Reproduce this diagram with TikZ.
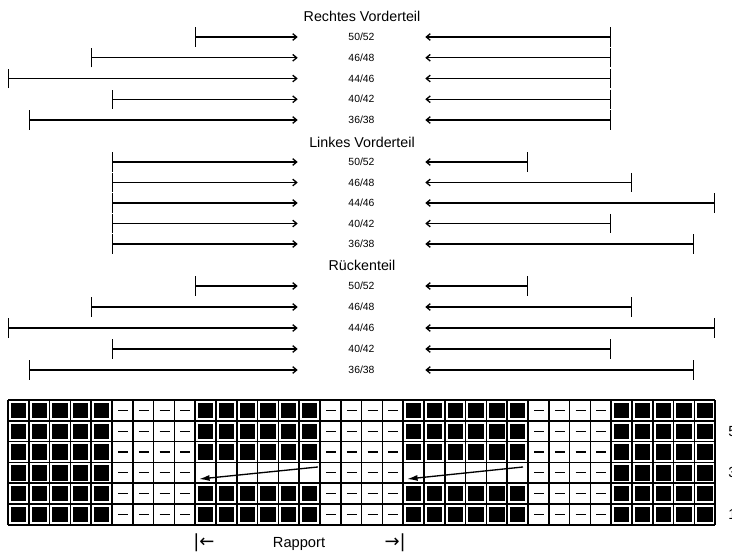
\documentclass[tikz,border=0pt]{standalone}
\usepackage{fontspec}
\setmainfont{Liberation Sans}
\newfontfamily\arrowfont{DejaVu Sans}
\usetikzlibrary{arrows.meta}

\tikzset{
  parttitle/.style={font=\fontsize{10.7}{12}\selectfont, inner sep=0pt},
  sizelabel/.style={font=\fontsize{7.8}{8}\selectfont, inner sep=0pt, minimum width=95.25pt},
  measline/.style={line width=1pt, {Bar[width=14.5pt]}-{Straight Barb[length=3pt,width=5pt]}},
  stitch/.style={fill=black},
  purl/.style={line width=1pt},
  cellgrid/.style={line width=1.1pt},
  movearrow/.style={line width=1pt, -{Latex[length=8pt,width=4.5pt]}},
  rownum/.style={font=\fontsize{11}{12}\selectfont, inner sep=0pt, anchor=west},
  rapport/.style={font=\fontsize{11}{12}\selectfont, inner sep=0pt},
  rapportend/.style={font=\arrowfont\fontsize{13.5}{15}\selectfont, inner sep=0pt},
}

\begin{document}
\begin{tikzpicture}[x=0.75pt, y=-0.75pt]
\useasboundingbox (0,0) rectangle (732,554);

% Rechtes Vorderteil
\node[parttitle] (rv) at (362,16) {Rechtes Vorderteil};
\foreach \a/\b/\xl/\xr [count=\i] in {50/52/195/611, 46/48/91/611, 44/46/8/611, 40/42/112/611, 36/38/29/611}{
  \pgfmathsetmacro\yy{37+20.75*(\i-1)}
  \node[sizelabel] (rv\i) at (361.5,\yy) {\a/\b};
  \coordinate (rvl\i) at (\xl,\yy);
  \coordinate (rvr\i) at (\xr,\yy);
  \draw[measline] (rvl\i) -- (rv\i.west);
  \draw[measline] (rvr\i) -- (rv\i.east);
}

% Linkes Vorderteil
\node[parttitle] (lv) at (362,142) {Linkes Vorderteil};
\foreach \a/\b/\xl/\xr [count=\i] in {50/52/112/528, 46/48/112/632, 44/46/112/715, 40/42/112/611, 36/38/112/694}{
  \pgfmathsetmacro\yy{162+20.5*(\i-1)}
  \node[sizelabel] (lv\i) at (361.5,\yy) {\a/\b};
  \coordinate (lvl\i) at (\xl,\yy);
  \coordinate (lvr\i) at (\xr,\yy);
  \draw[measline] (lvl\i) -- (lv\i.west);
  \draw[measline] (lvr\i) -- (lv\i.east);
}

% Rueckenteil
\node[parttitle] (rt) at (362,265) {Rückenteil};
\foreach \a/\b/\xl/\xr [count=\i] in {50/52/195/528, 46/48/91/632, 44/46/8/715, 40/42/112/611, 36/38/29/694}{
  \pgfmathsetmacro\yy{286+21*(\i-1)}
  \node[sizelabel] (rt\i) at (361.5,\yy) {\a/\b};
  \coordinate (rtl\i) at (\xl,\yy);
  \coordinate (rtr\i) at (\xr,\yy);
  \draw[measline] (rtl\i) -- (rt\i.west);
  \draw[measline] (rtr\i) -- (rt\i.east);
}

% Strickschrift
\begin{scope}[shift={(8,400)}, x=15.6pt, y=-15.6pt]
  \foreach \c in {0,1,2,3,4,29,30,31,32,33}
    \foreach \r in {0,...,5}
      \fill[stitch] (\c+0.13,\r+0.13) rectangle (\c+0.87,\r+0.87);
  \foreach \c in {9,10,11,12,13,14,19,20,21,22,23,24}
    \foreach \r in {0,1,2,4,5}
      \fill[stitch] (\c+0.13,\r+0.13) rectangle (\c+0.87,\r+0.87);
  \foreach \c in {5,6,7,8,15,16,17,18,25,26,27,28}
    \foreach \r in {0,...,5}
      \draw[purl] (\c+0.29,\r+0.5) -- (\c+0.77,\r+0.5);
  \foreach \c in {0,...,34}
    \draw[cellgrid] (\c,0) -- (\c,6);
  \foreach \r in {0,...,6}
    \draw[cellgrid] (0,\r) -- (34,\r);
  % verschobene Maschen
  \coordinate (mvA1) at (14.9,3.22);
  \coordinate (mvB1) at (9.18,3.8);
  \coordinate (mvA2) at (24.76,3.22);
  \coordinate (mvB2) at (19.18,3.8);
  \draw[movearrow] (mvA1) -- (mvB1);
  \draw[movearrow] (mvA2) -- (mvB2);
\end{scope}

% Reihen
\node[rownum] (row5) at (728,431.2) {5};
\node[rownum] (row3) at (728,472.8) {3};
\node[rownum] (row1) at (728,514.4) {1};

% Rapport
\node[rapportend, anchor=west] (rapL) at (193,543) {|←};
\node[rapport] (rap) at (299,544) {Rapport};
\node[rapportend, anchor=east] (rapR) at (406,543) {→|};
\end{tikzpicture}
\end{document}
